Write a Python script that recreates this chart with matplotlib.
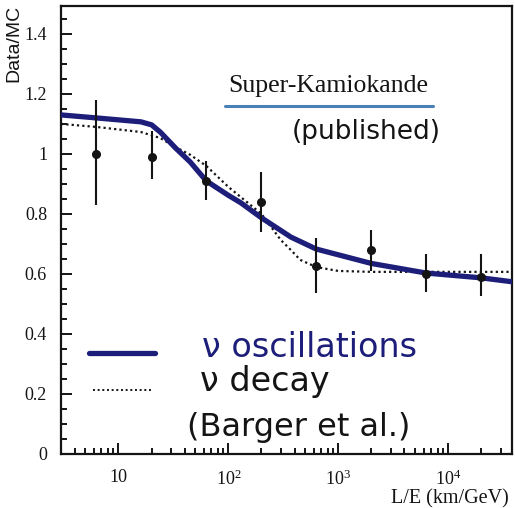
import matplotlib
matplotlib.use("Agg")
import matplotlib.pyplot as plt
import numpy as np
from matplotlib.ticker import LogLocator, FixedLocator, MultipleLocator, NullFormatter, FuncFormatter

plt.rcParams['font.family'] = ['Liberation Serif', 'DejaVu Serif']
plt.rcParams['mathtext.fontset'] = 'custom'
plt.rcParams['mathtext.rm'] = 'Liberation Serif'

# measured Data/MC points with error bars
le_pts = [6.3, 20, 63, 200, 630, 2000, 6300, 20000]
ratio = [1.00, 0.99, 0.91, 0.84, 0.625, 0.68, 0.60, 0.59]
ratio_lo = [0.83, 0.915, 0.845, 0.74, 0.535, 0.61, 0.54, 0.525]
ratio_hi = [1.18, 1.075, 0.975, 0.94, 0.72, 0.745, 0.665, 0.665]

# neutrino oscillation expectation
osc_x = [3, 6.3, 16, 20, 24, 33, 45, 63, 100, 130, 200, 370, 630, 2000, 6300, 20000, 40000]
osc_y = [1.13, 1.12, 1.107, 1.097, 1.073, 1.02, 0.973, 0.91, 0.862, 0.837, 0.787, 0.723,
         0.683, 0.635, 0.603, 0.587, 0.573]

# neutrino decay expectation
dec_x = [3, 6.3, 16, 24, 33, 45, 63, 100, 200, 300, 370, 450, 630, 1000, 2000, 40000]
dec_y = [1.10, 1.09, 1.073, 1.053, 1.023, 0.997, 0.96, 0.89, 0.80, 0.713, 0.68, 0.647,
         0.623, 0.61, 0.607, 0.607]

xtick_vals = [10, 100, 1000, 10000]
xtick_text = ['10', r'$\mathregular{10^2}$', r'$\mathregular{10^3}$', r'$\mathregular{10^4}$']

navy = '#1d1d7a'
ink = '#141414'

fig = plt.figure(figsize=(5.15, 5.08), dpi=100)
ax = fig.add_axes([0.1184, 0.1063, 0.8757, 0.8819])

ax.plot(osc_x, osc_y, color=navy, lw=3.8, solid_capstyle='round', zorder=3)
ax.plot(dec_x, dec_y, color=ink, lw=1.6, ls=(0, (1, 1.4)), zorder=2)

yerr = [np.array(ratio) - np.array(ratio_lo), np.array(ratio_hi) - np.array(ratio)]
ax.errorbar(le_pts, ratio, yerr=yerr, fmt='o', color=ink, ms=5.5, elinewidth=1.5,
            capsize=0, zorder=4)

ax.set_xscale('log')
ax.set_xlim(3, 38000)
ax.set_ylim(0, 1.493)

ax.xaxis.set_major_locator(FixedLocator(xtick_vals))
ax.xaxis.set_minor_locator(LogLocator(base=10, subs=np.arange(2, 10)))
ax.xaxis.set_minor_formatter(NullFormatter())
ax.set_xticklabels(xtick_text)

ax.yaxis.set_major_locator(MultipleLocator(0.2))
ax.yaxis.set_minor_locator(MultipleLocator(0.05))
ax.yaxis.set_major_formatter(FuncFormatter(lambda v, p: '%g' % round(v, 2)))

ax.tick_params(which='both', direction='in', top=False, right=False, colors=ink,
               labelsize=13, width=1.4)
ax.tick_params(which='major', length=8, pad=10)
ax.tick_params(which='minor', length=4.5)
ax.tick_params(axis='x', which='major', pad=11)

for s in ax.spines.values():
    s.set_linewidth(1.6)
    s.set_color(ink)

fig.text(0.026, 0.99, 'Data/MC', rotation=90, ha='center', va='top', fontsize=14,
         family='Liberation Sans', color=ink)
fig.text(0.988, 0.018, 'L/E (km/GeV)', ha='right', va='center', fontsize=14.5, color=ink)

# experiment label with its underline
ax.text(0.370, 0.822, 'Super-Kamiokande', transform=ax.transAxes, fontsize=18.5,
        ha='left', va='center', color=ink)
ax.plot([0.364, 0.825], [0.777, 0.777], transform=ax.transAxes, color='#4a80b8', lw=2.2,
        solid_capstyle='round')
ax.text(0.512, 0.719, '(published)', transform=ax.transAxes, fontsize=19,
        family='DejaVu Sans', ha='left', va='center', color=ink)

# legend samples drawn by hand
ax.plot([0.062, 0.208], [0.2254, 0.2254], transform=ax.transAxes, color=navy, lw=3.8,
        solid_capstyle='round')
ax.plot([0.071, 0.200], [0.143, 0.143], transform=ax.transAxes, color=ink, lw=1.4,
        ls=(0, (1, 1.4)))
ax.text(0.313, 0.237, 'ν oscillations', transform=ax.transAxes, fontsize=24,
        family='DejaVu Sans', ha='left', va='center', color=navy)
ax.text(0.308, 0.161, 'ν decay', transform=ax.transAxes, fontsize=24,
        family='DejaVu Sans', ha='left', va='center', color=ink)
ax.text(0.279, 0.060, '(Barger et al.)', transform=ax.transAxes, fontsize=23,
        family='DejaVu Sans', ha='left', va='center', color=ink)

fig.savefig('out.png', dpi=100)
